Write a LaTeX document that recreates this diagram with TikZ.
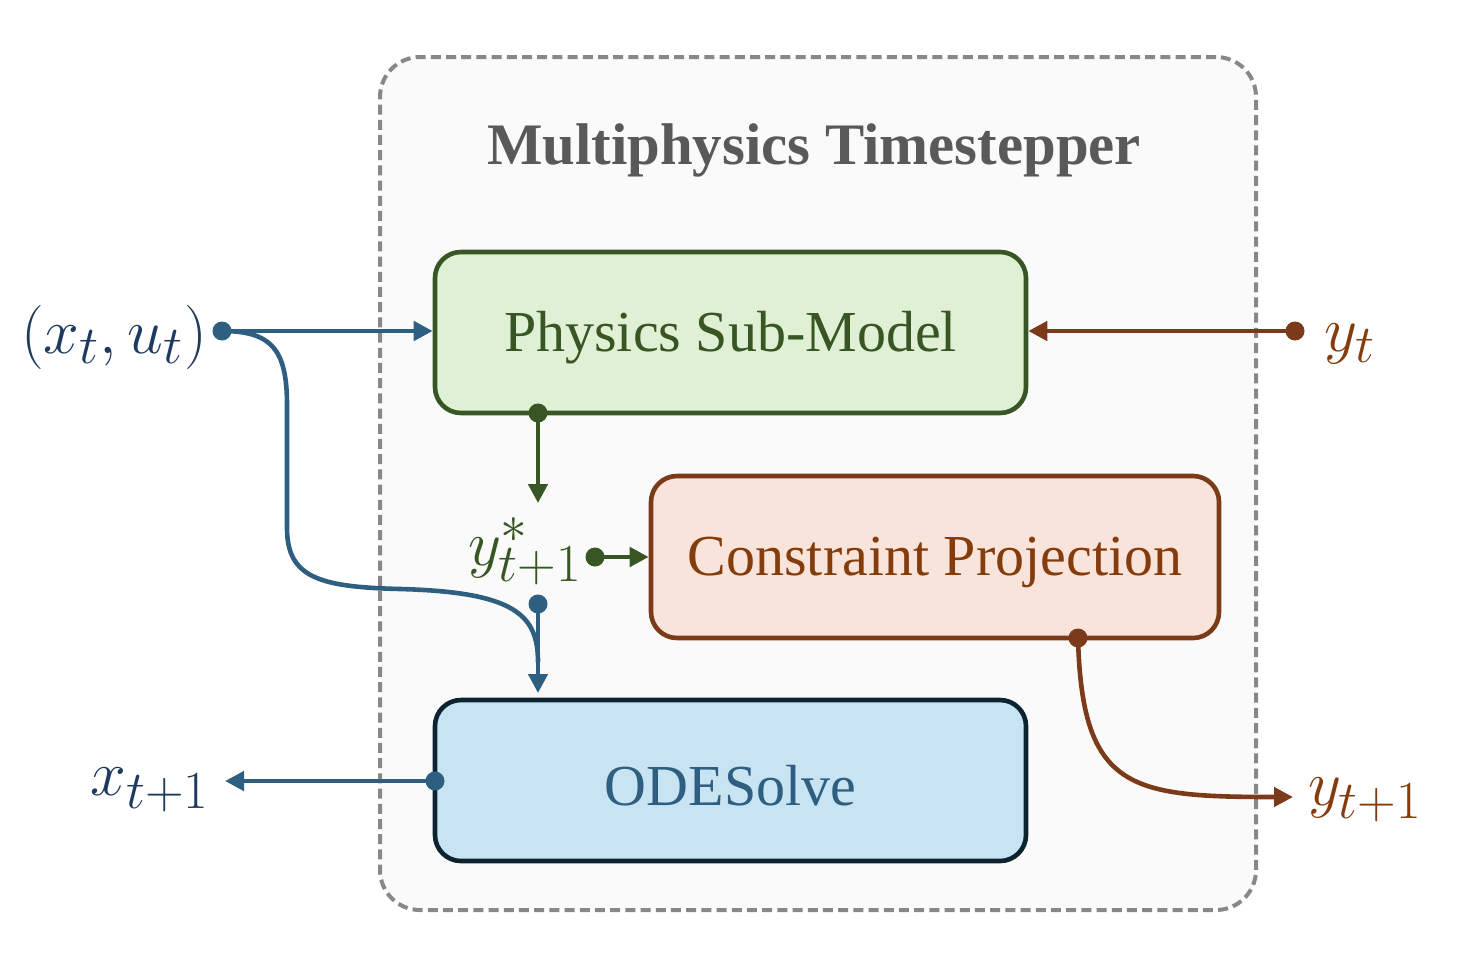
\documentclass[tikz,border=0pt]{standalone}
\usepackage{graphicx}
\usepackage{fontspec}
\setmainfont{Liberation Serif}
\usetikzlibrary{arrows.meta}
\definecolor{cblue}{HTML}{2E5F80}
\definecolor{cnavy}{HTML}{1F3A5F}
\definecolor{cgreen}{HTML}{375623}
\definecolor{cbrown}{HTML}{7B3A1A}
\definecolor{cbrowntxt}{HTML}{843C0C}
\definecolor{codeb}{HTML}{0D2330}
\definecolor{fgreen}{HTML}{DFF0D5}
\definecolor{fbrown}{HTML}{F8E4DA}
\definecolor{fblue}{HTML}{C8E3F2}
\definecolor{fouter}{HTML}{FAFAFA}
\definecolor{cdash}{HTML}{888888}
\definecolor{ctitle}{HTML}{595959}
\newcommand{\lowertext}[1]{\raisebox{-2.8pt}[\height][\depth]{#1}}
\newcommand{\bigmath}[1]{\scalebox{1.29}{$#1$}}
\tikzset{
  blockbox/.style={draw, rounded corners=13pt, line width=2.3pt, minimum width=295.5pt, minimum height=80.5pt, inner sep=0pt, font=\fontsize{29}{34}\selectfont},
  conn/.style={line width=2.3pt, -{Triangle[length=9.5pt,width=9.5pt]}},
  plain/.style={line width=2.3pt},
  dotmark/.style={circle, inner sep=0pt, minimum size=9.5pt},
  mlabel/.style={inner sep=0pt, font=\fontsize{24.88}{30}\selectfont},
}
\begin{document}
\begin{tikzpicture}[x=0.5pt,y=-0.5pt]
\useasboundingbox (0,0) rectangle (1470,964);
% outer container
\node[draw=cdash, fill=fouter, dash pattern=on 5pt off 2.6pt, line width=2pt, rounded corners=20pt, minimum width=438pt, minimum height=426.5pt] (outer) at (818,483.5) {};
\node[text=ctitle, font=\fontsize{29.4}{36}\selectfont\bfseries, inner sep=0pt] (title) at (814,150) {Multiphysics Timestepper};
% blocks
\node[blockbox, draw=cgreen, fill=fgreen, text=cgreen] (phys) at (730.5,332.5) {\lowertext{Physics Sub-Model}};
\node[blockbox, draw=cbrown, fill=fbrown, text=cbrowntxt, minimum width=284pt, minimum height=81pt] (cons) at (935,557) {\lowertext{Constraint Projection}};
\node[blockbox, draw=codeb, fill=fblue, text=cblue] (ode) at (730.5,780.5) {\lowertext{ODESolve}};
% labels
\node[mlabel, text=cnavy] (xu) at (114,337) {\bigmath{(x_t,u_t)}};
\node[mlabel, text=cbrowntxt] (yt) at (1350,344) {\bigmath{y_t}};
\node[mlabel, text=cgreen] (ystar) at (525,551) {\bigmath{y^*_{t+1}}};
\node[mlabel, text=cnavy] (xnext) at (150,790) {\bigmath{x_{t+1}}};
\node[mlabel, text=cbrowntxt] (ynext) at (1365,800) {\bigmath{y_{t+1}}};
% dots
\node[dotmark, fill=cblue] (dxu) at (222,331) {};
\node[dotmark, fill=cbrown] (dyt) at (1295,331) {};
\node[dotmark, fill=cgreen] (dphys) at (538,413) {};
\node[dotmark, fill=cgreen] (dystar) at (595,557) {};
\node[dotmark, fill=cblue] (dmid) at (538,604) {};
\node[dotmark, fill=cbrown] (dcons) at (1078,638) {};
\node[dotmark, fill=cblue] (dode) at (435,781) {};
\coordinate (odein) at (538,693);
\coordinate (xend) at (225,781);
\coordinate (yend) at (1293,797);
\coordinate (ystarin) at (538,503);
\coordinate (merge) at (538,662);
% connectors
\draw[conn, cblue] (dxu.center) -- (phys.west |- dxu);
\draw[plain, cblue] (dxu.center) .. controls (272,331) and (287,350) .. (287,405) -- (287,528) .. controls (287,578) and (320,587) .. (400,589) .. controls (515,592) and (538,615) .. (merge);
\draw[conn, cblue] (dmid.center) -- (odein);
\draw[conn, cbrown] (dyt.center) -- (phys.east |- dyt);
\draw[conn, cgreen] (dphys.center) -- (ystarin);
\draw[conn, cgreen] (dystar.center) -- (cons.west |- dystar);
\draw[conn, cbrown] (dcons.center) .. controls (1082,790) and (1130,797) .. (yend);
\draw[conn, cblue] (dode.center) -- (xend);
\end{tikzpicture}
\end{document}
